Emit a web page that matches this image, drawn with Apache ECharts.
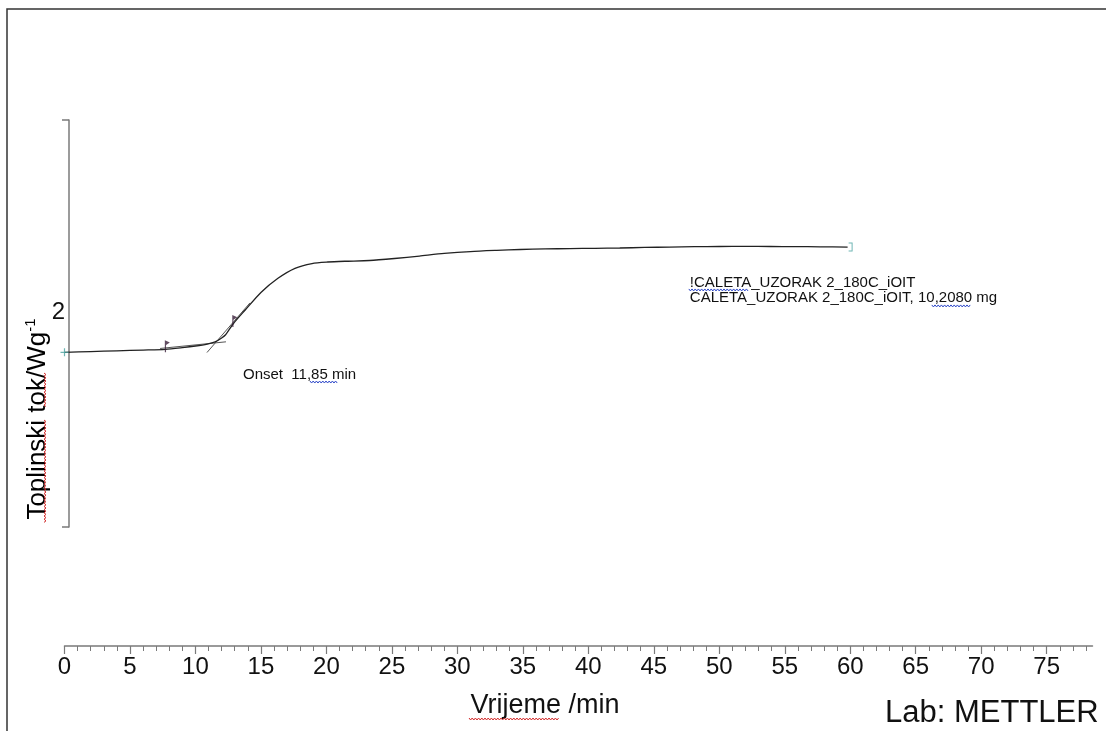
<!DOCTYPE html>
<html><head><meta charset="utf-8">
<script src="https://cdn.jsdelivr.net/npm/echarts@6/dist/echarts.min.js"></script>
<style>html,body{margin:0;padding:0;background:#fff}#c{width:1106px;height:731px}</style>
</head><body><div id="c"></div><script>
// ---- data (time in min, heat flow in W/g) ----
const timeMin  = [0, 2, 4, 6, 7.7, 9, 10, 10.9, 11.5, 12.0, 12.3, 12.9, 13.8, 15.0, 16.3, 17.6, 18.9, 20.1, 21.4, 23.3, 25.2, 27.1, 29.0, 31.0, 33.0, 34.8, 36.7, 38.6, 40.5, 42.4, 44.3, 46.2, 48.1, 50.0, 52.0, 53.9, 55.8, 57.7, 59.8];
const heatFlow = [1.631, 1.638, 1.645, 1.652, 1.659, 1.675, 1.690, 1.708, 1.728, 1.765, 1.795, 1.900, 2.026, 2.190, 2.322, 2.415, 2.460, 2.474, 2.481, 2.488, 2.507, 2.530, 2.554, 2.572, 2.583, 2.591, 2.596, 2.600, 2.602, 2.605, 2.610, 2.614, 2.617, 2.619, 2.620, 2.619, 2.618, 2.616, 2.614];
const baseTangentT  = [7.3, 12.33];
const baseTangentV  = [1.667, 1.729];
const slopeTangentT = [10.88, 14.16];
const slopeTangentV = [1.629, 2.092];
const flagT = [7.7, 12.85];
const flagV = [1.659, 1.895];
const startT = [0],    startV = [1.631];
const endT   = [59.8], endV   = [2.614];
const xMajorTicks = [0, 5, 10, 15, 20, 25, 30, 35, 40, 45, 50, 55, 60, 65, 70, 75];
const xMinorTicks = [0,1,2,3,4,5,6,7,8,9,10,11,12,13,14,15,16,17,18,19,20,21,22,23,24,25,26,27,28,29,30,31,32,33,34,35,36,37,38,39,40,41,42,43,44,45,46,47,48,49,50,51,52,53,54,55,56,57,58,59,60,61,62,63,64,65,66,67,68,69,70,71,72,73,74,75,76,77,78];
const yCapTicks = [0, 3.8];
const yLabelTicks = [2];
const onsetText = 'Onset  11,85 min';
const onsetAnchor = [13.63, 1.419];
const sampleLines = ['!CALETA_UZORAK 2_180C_iOIT', 'CALETA_UZORAK 2_180C_iOIT, 10,2080 mg'];
const sampleAnchor = [47.75, 2.288];
const xTitle = 'Vrijeme /min';
const yTitle = 'Toplinski tok/Wg';
const labText = 'Lab: METTLER';

const FONT = 'Liberation Sans, Arial, sans-serif';
const zip = (a, b) => a.map((v, i) => [v, b[i]]);

const chart = echarts.init(document.getElementById('c'), null, {renderer: 'canvas'});
const axisGray = '#7a7a7a';
chart.setOption({
  animation: false,
  backgroundColor: '#fff',
  grid: {left: 64.5, right: 13.5, top: 120, bottom: 204, containLabel: false},
  xAxis: [
    {type: 'value', min: 0, max: 78.5, position: 'bottom', offset: 119,
     axisLine: {show: true, onZero: false, lineStyle: {color: axisGray, width: 1.5}},
     axisTick: {show: true, customValues: xMajorTicks, length: 8, lineStyle: {color: axisGray, width: 1.2}},
     axisLabel: {show: true, customValues: xMajorTicks, margin: 9, fontSize: 24, color: '#111', fontFamily: FONT},
     splitLine: {show: false}},
    {type: 'value', min: 0, max: 78.5, position: 'bottom', offset: 119,
     axisLine: {show: false, onZero: false},
     axisTick: {show: true, customValues: xMinorTicks, length: 5, lineStyle: {color: axisGray, width: 1}},
     axisLabel: {show: false}, splitLine: {show: false}}
  ],
  yAxis: {type: 'value', min: 0, max: 3.8, position: 'left', offset: -4.5,
    axisLine: {show: true, onZero: false, lineStyle: {color: axisGray, width: 1.5}},
    axisTick: {show: true, customValues: yCapTicks, length: 7, lineStyle: {color: axisGray, width: 1.5}},
    axisLabel: {show: true, customValues: yLabelTicks, margin: 4, fontSize: 24, color: '#111', fontFamily: FONT},
    splitLine: {show: false}},
  series: [
    {type: 'line', name: 'curve', data: zip(timeMin, heatFlow), showSymbol: false, smooth: 0.25,
     lineStyle: {color: '#222', width: 1.3}, z: 3},
    {type: 'line', data: zip(baseTangentT, baseTangentV), showSymbol: false,
     lineStyle: {color: '#555', width: 1}, z: 2},
    {type: 'line', data: zip(slopeTangentT, slopeTangentV), showSymbol: false,
     lineStyle: {color: '#555', width: 1}, z: 2},
    {type: 'scatter', data: zip(flagT, flagV),
     symbol: 'path://M0,0 L5,2.2 L1.2,4.6 L1.2,12 L0,12 Z', symbolSize: [5, 12], symbolOffset: [2, -3],
     itemStyle: {color: '#3a1f3a'}, z: 4},
    {type: 'scatter', data: zip(startT, startV),
     symbol: 'path://M0,3.4 L3.4,3.4 L3.4,0 L4.6,0 L4.6,3.4 L8,3.4 L8,4.6 L4.6,4.6 L4.6,8 L3.4,8 L3.4,4.6 L0,4.6 Z',
     symbolSize: [8, 8], itemStyle: {color: '#4aa3a0'}, z: 4},
    {type: 'scatter', data: zip(endT, endV),
     symbol: 'path://M0,0 L4,0 L4,9 L0,9 L0,8 L3,8 L3,1 L0,1 Z', symbolSize: [4, 9], symbolOffset: [3, 0],
     itemStyle: {color: '#4aa3a0'}, z: 4}
  ]
});

function wavyH(x1, x2, y, color) {
  const pts = []; let up = true;
  for (let x = x1; x <= x2; x += 1.6) { pts.push([x, y + (up ? -1 : 1)]); up = !up; }
  return {type: 'polyline', shape: {points: pts}, style: {stroke: color, lineWidth: 1, fill: null}, z: 10};
}
function wavyV(x, y1, y2, color) {
  const pts = []; let l = true;
  for (let y = y1; y <= y2; y += 1.6) { pts.push([x + (l ? -1 : 1), y]); l = !l; }
  return {type: 'polyline', shape: {points: pts}, style: {stroke: color, lineWidth: 1, fill: null}, z: 10};
}

const onsetPx = chart.convertToPixel({xAxisIndex: 0, yAxisIndex: 0}, onsetAnchor);
const samplePx = chart.convertToPixel({xAxisIndex: 0, yAxisIndex: 0}, sampleAnchor);
const RED = '#d42a2a', BLUE = '#2b46c8';

chart.setOption({
  graphic: [
    {type: 'rect', shape: {x: 7, y: 9, width: 1200, height: 800}, style: {fill: null, stroke: '#333', lineWidth: 1.5}, z: 0, silent: true},
    {type: 'text', x: onsetPx[0], y: onsetPx[1], style: {text: onsetText, font: '15px ' + FONT, fill: '#111', textVerticalAlign: 'middle'}, z: 10},
    wavyH(onsetPx[0] + 67, onsetPx[0] + 95, onsetPx[1] + 7, BLUE),
    {type: 'text', x: samplePx[0], y: samplePx[1] - 7, style: {text: sampleLines.join('\n'), font: '15px ' + FONT, lineHeight: 15, fill: '#111', textVerticalAlign: 'top'}, z: 10},
    wavyH(samplePx[0] - 1, samplePx[0] + 59, samplePx[1] + 8, BLUE),
    wavyH(samplePx[0] + 242, samplePx[0] + 281, samplePx[1] + 24, BLUE),
    {type: 'text', x: 545, y: 706, style: {text: xTitle, font: '27px ' + FONT, fill: '#111', textAlign: 'center', textVerticalAlign: 'middle'}, z: 10},
    wavyH(469, 560, 719, RED),
    {type: 'text', x: 38, y: 419, rotation: Math.PI / 2,
     style: {text: '{a|' + yTitle + '}{s|-1}', textAlign: 'center', textVerticalAlign: 'middle',
       rich: {a: {fontSize: 26, fontFamily: FONT, color: '#111', lineHeight: 30},
              s: {fontSize: 15, fontFamily: FONT, color: '#111', verticalAlign: 'top', lineHeight: 30}}}, z: 10},
    wavyV(45, 373, 408, RED),
    wavyV(45, 420, 523, RED),
    {type: 'text', x: 885, y: 713, style: {text: labText, font: '31px ' + FONT, fill: '#111', textVerticalAlign: 'middle'}, z: 10}
  ]
});
</script></body></html>
